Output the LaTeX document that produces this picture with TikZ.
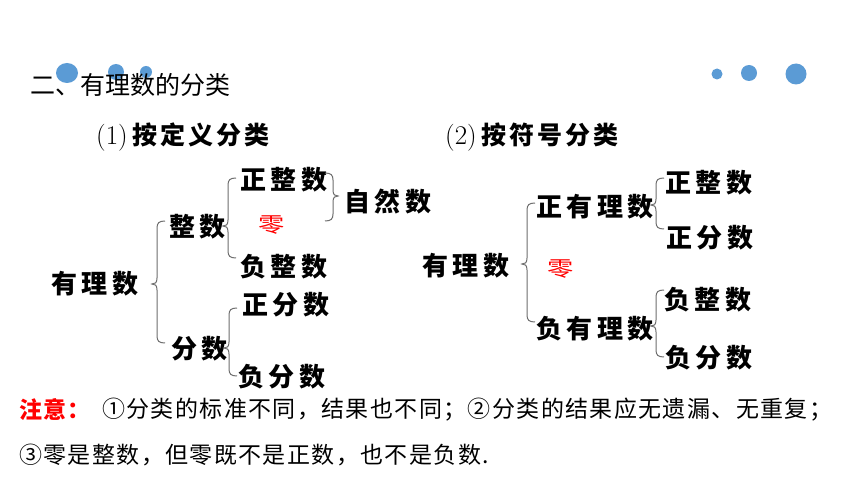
\documentclass[tikz,border=0pt]{standalone}
\usepackage{fontspec}
\newfontfamily\cjk{Noto Sans CJK SC}
\newfontfamily\cjkhead[LetterSpace=12]{Noto Sans CJK SC}
\newfontfamily\cjktree[LetterSpace=17]{Noto Sans CJK SC}
\newfontfamily\cjkbody[LetterSpace=6]{Noto Sans CJK SC}
\definecolor{dotblue}{RGB}{91,155,213}
\definecolor{bracegray}{RGB}{110,110,110}
\tikzset{
  dotfill/.style={fill=dotblue, draw=none},
  treelbl/.style={inner sep=0, anchor=west, font=\cjktree\bfseries\fontsize{26}{26}\selectfont},
  zerolbl/.style={inner sep=0, text=red, font=\cjk\fontsize{21}{21}\selectfont},
  headlbl/.style={inner sep=0, anchor=west, font=\fontsize{27}{27}\selectfont},
  bodylbl/.style={inner sep=0, anchor=west, font=\cjkbody\fontsize{23}{23}\selectfont},
  bracestyle/.style={draw=bracegray, line width=1pt}
}
% left curly brace "{" : x, top y, bottom y, tip y
\newcommand\LBr[4]{%
  \draw[bracestyle] (#1+8,#2) .. controls (#1+2,#2) and (#1,#2+2) .. (#1,#2+7)
    -- (#1,#4-6) .. controls (#1,#4-1) and (#1-2,#4) .. (#1-5,#4)
    .. controls (#1-2,#4) and (#1,#4+1) .. (#1,#4+6)
    -- (#1,#3-7) .. controls (#1,#3-2) and (#1+2,#3) .. (#1+8,#3);}
% right curly brace "}"
\newcommand\RBr[4]{%
  \draw[bracestyle] (#1-8,#2) .. controls (#1-2,#2) and (#1,#2+2) .. (#1,#2+7)
    -- (#1,#4-6) .. controls (#1,#4-1) and (#1+2,#4) .. (#1+5,#4)
    .. controls (#1+2,#4) and (#1,#4+1) .. (#1,#4+6)
    -- (#1,#3-7) .. controls (#1,#3-2) and (#1-2,#3) .. (#1-8,#3);}
\begin{document}
\begin{tikzpicture}[x=1pt,y=-1pt]
\useasboundingbox[fill=white] (0,0) rectangle (860,484);
% decorative dots
\fill[dotfill] (67,73) ellipse [x radius=11, y radius=10];
\fill[dotfill] (116,72) circle [radius=8];
\fill[dotfill] (146,72) circle [radius=6];
\fill[dotfill] (717,74) circle [radius=5.5];
\fill[dotfill] (749,73) circle [radius=8];
\fill[dotfill] (796,74) circle [radius=10.5];
% title
\node[inner sep=0, anchor=west, font=\cjk\fontsize{25}{25}\selectfont] (title) at (30,85) {二、有理数的分类};
% headings
\node[headlbl] (h1) at (96,137) {(1)\,{\cjkhead\bfseries\fontsize{25}{25}\selectfont 按定义分类}};
\node[headlbl] (h2) at (445,137) {(2)\,{\cjkhead\bfseries\fontsize{25}{25}\selectfont 按符号分类}};
% left tree
\node[treelbl] (l0) at (51,284) {有理数};
\node[treelbl] (lint) at (169,227) {整数};
\node[treelbl] (lfrac) at (171,349) {分数};
\node[treelbl] (lpi) at (240,180) {正整数};
\node[zerolbl] (lz) at (272,225) {\scalebox{1.25}[1]{零}};
\node[treelbl] (lni) at (240,267) {负整数};
\node[treelbl] (lnat) at (344,202) {自然数};
\node[treelbl] (lpf) at (242,305) {正分数};
\node[treelbl] (lnf) at (238,377) {负分数};
\LBr{157}{221}{343}{284}
\LBr{228}{178}{258}{226}
\RBr{333}{173}{221}{196}
\LBr{229}{308}{376}{348}
% right tree
\node[treelbl] (r0) at (422,266) {有理数};
\node[treelbl] (rpos) at (536,207) {正有理数};
\node[treelbl] (rneg) at (536,329) {负有理数};
\node[zerolbl] (rz) at (561,269) {\scalebox{1.25}[1]{零}};
\node[treelbl] (rpi) at (665,183) {正整数};
\node[treelbl] (rpf) at (666,238) {正分数};
\node[treelbl] (rni) at (664,300) {负整数};
\node[treelbl] (rnf) at (665,358) {负分数};
\LBr{527}{203}{322}{264}
\LBr{656}{178}{229}{205}
\LBr{656}{290}{357}{326}
% notes
\node[bodylbl, text=red, font=\cjkbody\bfseries\fontsize{23}{23}\selectfont] (note) at (19,410) {注意：};
\node[bodylbl] (n1) at (102,410) {①分类的标准不同，结果也不同；②分类的结果应无遗漏、无重复；};
\node[bodylbl] (n2) at (19,455) {③零是整数，但零既不是正数，也不是负数.};
\end{tikzpicture}
\end{document}
